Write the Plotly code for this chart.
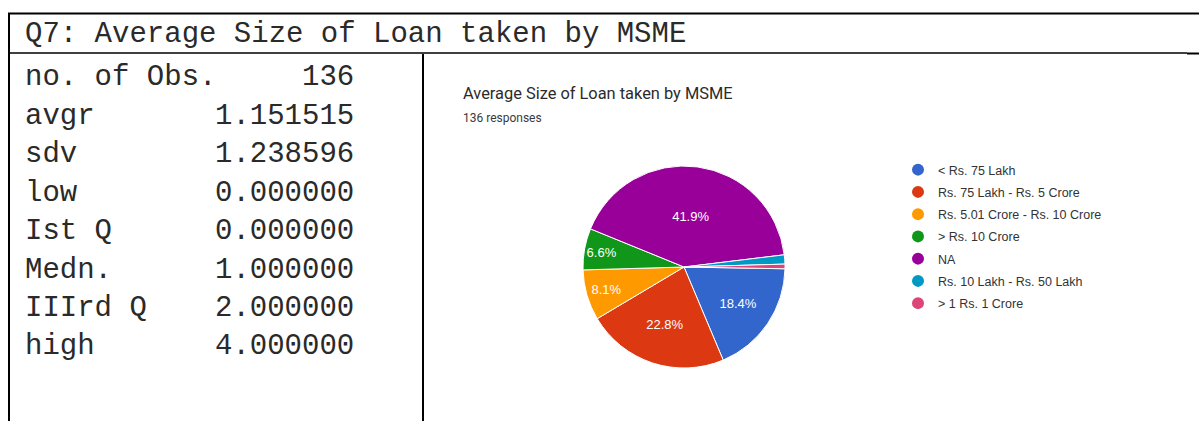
import plotly.graph_objects as go

W, H = 1199, 421

# Survey summary statistics
stat_names = ["no. of Obs.", "avgr", "sdv", "low", "Ist Q", "Medn.", "IIIrd Q", "high"]
stat_values = ["136", "1.151515", "1.238596", "0.000000", "0.000000", "1.000000", "2.000000", "4.000000"]

# Pie data (counts of responses)
categories = ["< Rs. 75 Lakh", "Rs. 75 Lakh - Rs. 5 Crore", "Rs. 5.01 Crore - Rs. 10 Crore",
              "> Rs. 10 Crore", "NA", "Rs. 10 Lakh - Rs. 50 Lakh", "> 1 Rs. 1 Crore"]
counts = [25, 31, 11, 9, 57, 2, 1]
colors = ["#3366cc", "#dc3912", "#ff9900", "#109618", "#990099", "#0099c6", "#dd4477"]

header = "Q7: Average Size of Loan taken by MSME"
chart_title = "Average Size of Loan taken by MSME"
responses = f"{sum(counts)} responses"


def px(x):
    return x / W


def py(y):
    return 1 - y / H


total = sum(counts)
slice_text = [f"{100 * c / total:.1f}%" if c / total >= 0.05 else "" for c in counts]

fig = go.Figure()

pie_d = 202
cx, cy = 684, 267
fig.add_trace(go.Pie(
    labels=categories, values=counts, sort=False, direction="clockwise",
    rotation=91,
    marker=dict(colors=colors, line=dict(color="white", width=1)),
    text=slice_text, textinfo="text", textposition="inside",
    insidetextorientation="horizontal",
    textfont=dict(family="Arial, Liberation Sans", size=13, color="white"),
    domain=dict(x=[px(cx - pie_d / 2), px(cx + pie_d / 2)],
                y=[py(cy + pie_d / 2), py(cy - pie_d / 2)]),
    showlegend=False, hoverinfo="label+percent",
))

# Legend entries with round swatches
for i, (name, col) in enumerate(zip(categories, colors)):
    fig.add_trace(go.Scatter(
        x=[None], y=[None], mode="markers", name=name,
        marker=dict(symbol="circle", size=12, color=col),
        legendgroup=f"g{i}", showlegend=True,
    ))

shapes = []
line_col = "black"
# table borders
shapes.append(dict(type="line", xref="paper", yref="paper",
                   x0=px(8), x1=px(W), y0=py(13.5), y1=py(13.5), line=dict(color=line_col, width=2)))
shapes.append(dict(type="line", xref="paper", yref="paper",
                   x0=px(8), x1=px(1187), y0=py(53), y1=py(53), line=dict(color=line_col, width=1.5)))
shapes.append(dict(type="line", xref="paper", yref="paper",
                   x0=px(1187), x1=px(W), y0=py(53.5), y1=py(53.5), line=dict(color=line_col, width=2)))
shapes.append(dict(type="line", xref="paper", yref="paper",
                   x0=px(9), x1=px(9), y0=py(13), y1=py(H), line=dict(color=line_col, width=2)))
shapes.append(dict(type="line", xref="paper", yref="paper",
                   x0=px(423), x1=px(423), y0=py(54), y1=py(H), line=dict(color=line_col, width=2)))

mono = "Courier New, Liberation Mono, monospace"
text_col = "#2a2a2a"
annotations = [
    dict(text=header, x=px(23), y=py(34), xref="paper", yref="paper",
         xanchor="left", yanchor="middle", showarrow=False,
         font=dict(family=mono, size=29, color=text_col)),
]
row0, row_h = 78, 38.4
for i, (nm, val) in enumerate(zip(stat_names, stat_values)):
    yy = row0 + i * row_h
    annotations.append(dict(text=nm, x=px(23), y=py(yy), xref="paper", yref="paper",
                            xanchor="left", yanchor="middle", showarrow=False,
                            font=dict(family=mono, size=29, color=text_col)))
    annotations.append(dict(text=val, x=px(356), y=py(yy), xref="paper", yref="paper",
                            xanchor="right", yanchor="middle", showarrow=False,
                            font=dict(family=mono, size=29, color=text_col)))

annotations.append(dict(text=chart_title, x=px(461), y=py(94), xref="paper", yref="paper",
                        xanchor="left", yanchor="middle", showarrow=False,
                        font=dict(family="Roboto, Arial", size=16.4, color="#2b2b2b")))
annotations.append(dict(text=responses, x=px(461), y=py(118), xref="paper", yref="paper",
                        xanchor="left", yanchor="middle", showarrow=False,
                        font=dict(family="Roboto, Arial", size=12, color="#3a3a3a")))

fig.update_layout(
    width=W, height=H,
    margin=dict(l=0, r=0, t=0, b=0),
    paper_bgcolor="white", plot_bgcolor="white",
    xaxis=dict(visible=False, domain=[0.99, 1.0]),
    yaxis=dict(visible=False, domain=[0.0, 0.01]),
    shapes=shapes, annotations=annotations,
    uniformtext=dict(minsize=13, mode="show"),
    legend=dict(x=px(898), y=py(155), xanchor="left", yanchor="top",
                font=dict(family="Arial, Liberation Sans", size=12.5, color="#333"),
                tracegroupgap=3, bgcolor="rgba(0,0,0,0)"),
)

fig.write_html("out.html")
